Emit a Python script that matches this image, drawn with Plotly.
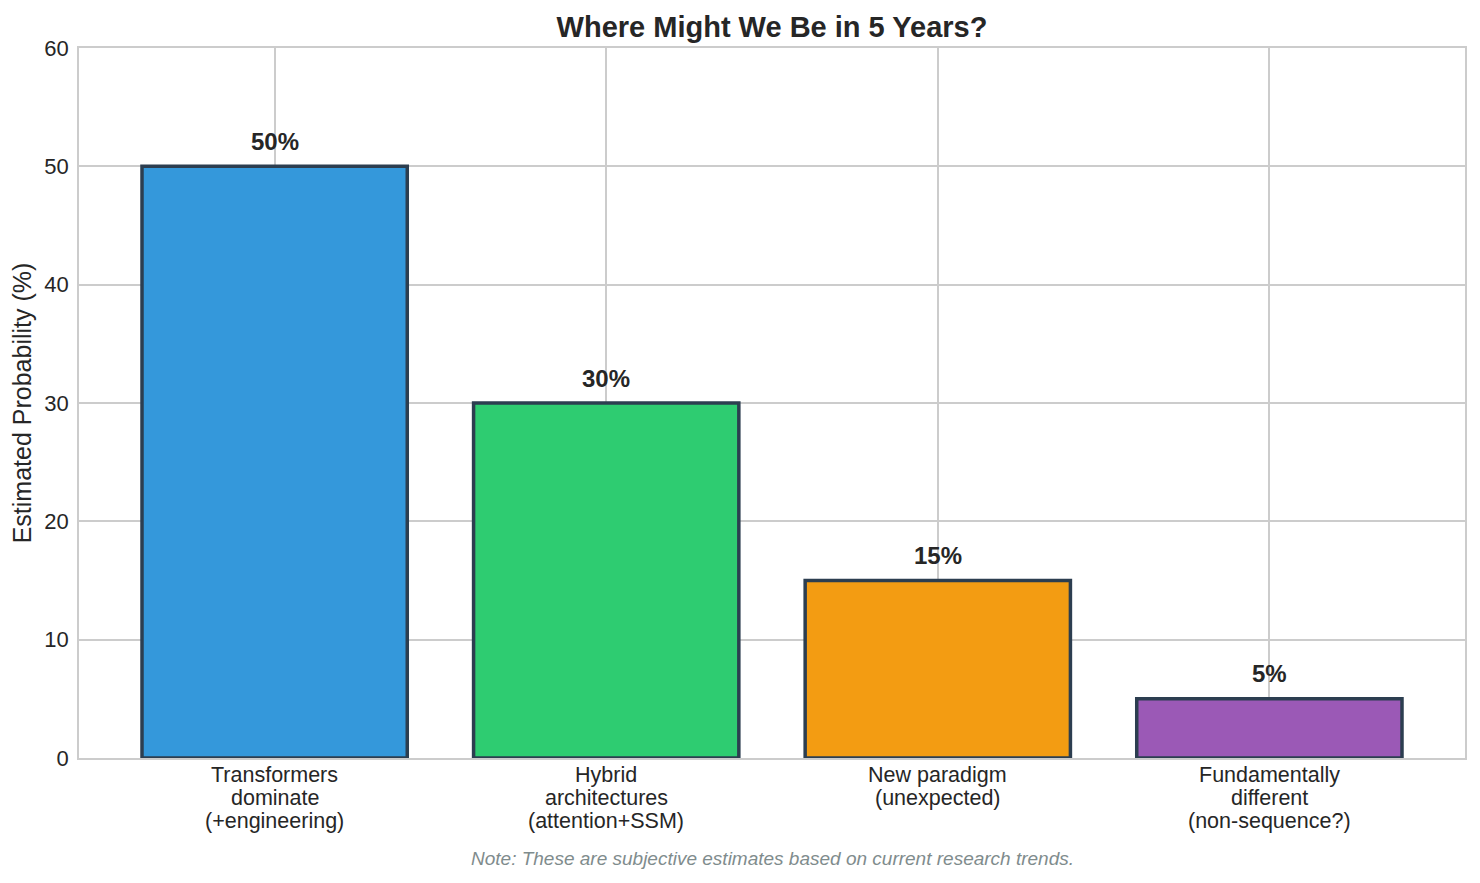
import plotly.graph_objects as go

categories = [
    "Transformers\ndominate\n(+engineering)",
    "Hybrid\narchitectures\n(attention+SSM)",
    "New paradigm\n(unexpected)",
    "Fundamentally\ndifferent\n(non-sequence?)",
]
probabilities = [50, 30, 15, 5]
bar_colors = ["#3498db", "#2ecc71", "#f39c12", "#9b59b6"]
y_ticks = [0, 10, 20, 30, 40, 50, 60]

FONT = "Liberation Sans, Arial, Helvetica, sans-serif"
TXT = "#262626"

W, H = 1472, 875
L, R, T, B = 71, 15, 40, 125
PW, PH = W - L - R, H - T - B

x_idx = list(range(len(categories)))

fig = go.Figure()
fig.add_trace(go.Bar(
    x=x_idx,
    y=probabilities,
    width=0.8,
    marker=dict(color=bar_colors, line=dict(color="#2c3e50", width=3.5)),
    hoverinfo="skip",
))

for i, v in zip(x_idx, probabilities):
    fig.add_annotation(
        x=i, y=v + 0.8, text=f"<b>{v}%</b>", showarrow=False,
        xanchor="center", yanchor="bottom",
        font=dict(family=FONT, size=24, color=TXT),
    )

# category labels, one line at a time (matplotlib-like line spacing)
LINE_OFFSETS = [17, 40, 63]
for i, cat in zip(x_idx, categories):
    for k, line in enumerate(cat.split("\n")):
        fig.add_annotation(
            x=i, xref="x", yref="paper", y=-LINE_OFFSETS[k] / PH,
            text=line, showarrow=False, xanchor="center", yanchor="middle",
            font=dict(family=FONT, size=21.5, color=TXT),
        )

fig.add_annotation(
    xref="paper", yref="paper", x=(764 - L) / PW, y=-(850 - (T + PH)) / PH,
    text="<i>Note: These are subjective estimates based on current research trends.</i>",
    showarrow=False, xanchor="center", yanchor="middle",
    font=dict(family=FONT, size=19, color="#7f8c8d"),
)

fig.update_layout(
    width=W, height=H,
    margin=dict(l=L, r=R, t=T, b=B, autoexpand=False),
    paper_bgcolor="white", plot_bgcolor="white",
    showlegend=False,
    title=dict(
        text="<b>Where Might We Be in 5 Years?</b>",
        x=764 / W, xanchor="center", y=1 - 19 / H, yanchor="middle",
        font=dict(family=FONT, size=29, color=TXT),
    ),
    font=dict(family=FONT, color=TXT),
)

fig.update_xaxes(
    range=[-0.59, 3.59],
    tickmode="array", tickvals=x_idx, showticklabels=False,
    showgrid=True, gridcolor="#cccccc", gridwidth=1.5,
    showline=True, linecolor="#cccccc", linewidth=1.5, mirror=True,
    ticks="", zeroline=False, fixedrange=True, automargin=False,
)
fig.update_yaxes(
    range=[0, 60],
    tickmode="array", tickvals=y_ticks,
    tickfont=dict(family=FONT, size=22, color=TXT),
    ticklabelstandoff=4,
    title=dict(text="Estimated Probability (%)", font=dict(family=FONT, size=25, color=TXT), standoff=12),
    showgrid=True, gridcolor="#cccccc", gridwidth=1.5,
    showline=True, linecolor="#cccccc", linewidth=1.5, mirror=True,
    ticks="", zeroline=False, fixedrange=True, automargin=False,
)

fig.write_html("out.html")
